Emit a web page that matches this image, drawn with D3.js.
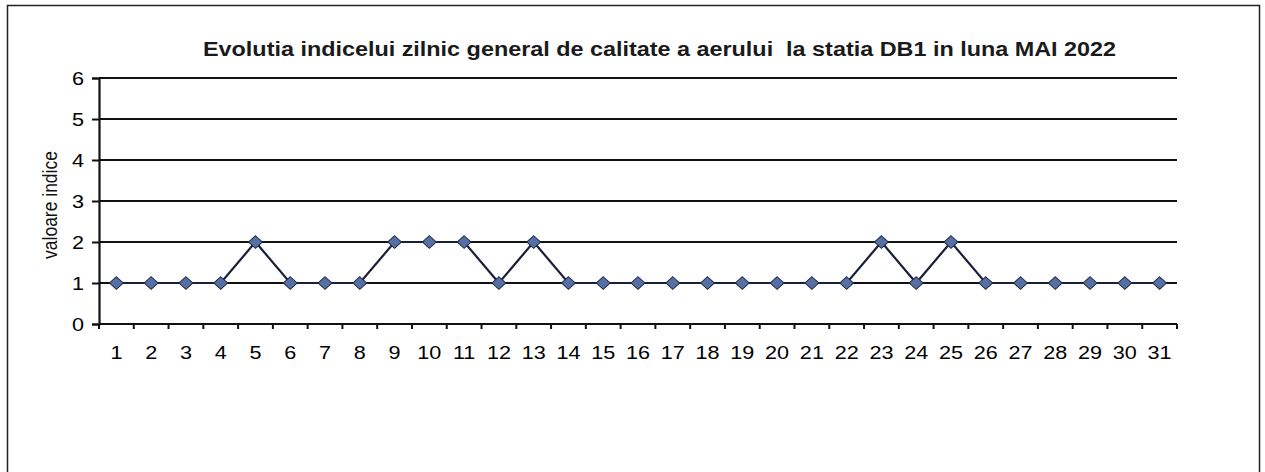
<!DOCTYPE html>
<html>
<head>
<meta charset="utf-8">
<script src="https://cdnjs.cloudflare.com/ajax/libs/d3/7.8.5/d3.min.js"></script>
<style>
  body { margin: 0; background: #fff; }
  svg { display: block; font-family: Arial, "Liberation Sans", sans-serif; }
</style>
</head>
<body>
<div id="chart"></div>
<script>
// data
var days = d3.range(1, 32).map(String);
var indexValues = [1, 1, 1, 1, 2, 1, 1, 1, 2, 2, 2, 1, 2, 1, 1, 1, 1, 1, 1, 1, 1, 1, 2, 1, 2, 1, 1, 1, 1, 1, 1];
var yTicks = [0, 1, 2, 3, 4, 5, 6];
var titleText = "Evolutia indicelui zilnic general de calitate a aerului  la statia DB1 in luna MAI 2022";
var yLabel = "valoare indice";

var width = 1265, height = 472;
var margin = { top: 78, right: 88, bottom: 148, left: 99 };
var innerW = width - margin.left - margin.right;
var innerH = 324 - margin.top;
var stretch = 1.2; // the scan is wider than tall

var svg = d3.select("#chart").append("svg")
    .attr("width", width)
    .attr("height", height);

// outer frame (bottom edge runs off the page)
svg.append("path")
    .attr("d", "M7.5,480 V5.5 H1259.5 V480")
    .attr("fill", "none")
    .attr("stroke", "#222")
    .attr("stroke-width", 1.5);

svg.append("text")
    .attr("x", 659.5)
    .attr("y", 56)
    .attr("text-anchor", "middle")
    .attr("font-size", 20)
    .attr("font-weight", "bold")
    .attr("fill", "#1a1a1a")
    .attr("xml:space", "preserve")
    .attr("textLength", 913)
    .attr("lengthAdjust", "spacingAndGlyphs")
    .text(titleText);

var g = svg.append("g")
    .attr("transform", "translate(" + margin.left + "," + margin.top + ")");

var x = d3.scaleBand().domain(days).range([0, innerW]);
var y = d3.scaleLinear().domain([0, 6]).range([innerH, 0]);

// gridlines
g.selectAll(".grid")
    .data(yTicks.filter(function(d) { return d > 0; }))
    .enter().append("line")
    .attr("class", "grid")
    .attr("x1", 0)
    .attr("x2", innerW)
    .attr("y1", function(d) { return y(d); })
    .attr("y2", function(d) { return y(d); })
    .attr("stroke", "#111")
    .attr("stroke-width", 2.2);

// y axis
var yAxis = g.append("g")
    .call(d3.axisLeft(y).tickValues(yTicks).tickSize(7).tickFormat(d3.format("d")));
yAxis.select(".domain").attr("stroke", "#111").attr("stroke-width", 2.2);
yAxis.selectAll(".tick line").attr("stroke", "#111").attr("stroke-width", 2);
yAxis.selectAll("text")
    .attr("x", 0)
    .attr("dy", "0.36em")
    .attr("transform", "translate(-15,0) scale(" + stretch + ",1)")
    .attr("font-size", 18)
    .attr("font-family", "Arial, 'Liberation Sans', sans-serif")
    .attr("fill", "#000");

// x axis: ticks sit between categories
var xAxis = g.append("g")
    .attr("transform", "translate(0," + innerH + ")");
xAxis.append("line")
    .attr("x1", 0).attr("x2", innerW)
    .attr("stroke", "#111").attr("stroke-width", 2.2);
xAxis.selectAll(".xtick")
    .data(days.concat(["end"]))
    .enter().append("line")
    .attr("class", "xtick")
    .attr("x1", function(d, i) { return i * x.step(); })
    .attr("x2", function(d, i) { return i * x.step(); })
    .attr("y1", 0).attr("y2", 5)
    .attr("stroke", "#111").attr("stroke-width", 2);
xAxis.selectAll(".xlab")
    .data(days)
    .enter().append("text")
    .attr("class", "xlab")
    .attr("transform", function(d) {
        return "translate(" + (x(d) + x.bandwidth() / 2) + ",35) scale(" + stretch + ",1)";
    })
    .attr("text-anchor", "middle")
    .attr("font-size", 18)
    .attr("fill", "#000")
    .text(function(d) { return d; });

// y label
svg.append("text")
    .attr("transform", "translate(57,205) rotate(-90) scale(1," + stretch + ")")
    .attr("text-anchor", "middle")
    .attr("font-size", 17.5)
    .attr("fill", "#111")
    .text(yLabel);

// series
var line = d3.line()
    .x(function(d, i) { return x(days[i]) + x.bandwidth() / 2; })
    .y(function(d) { return y(d); });

g.append("path")
    .datum(indexValues)
    .attr("d", line)
    .attr("fill", "none")
    .attr("stroke", "#1a1f3a")
    .attr("stroke-width", 2.2);

var diamond = d3.symbol().type(d3.symbolDiamond2).size(100);
g.selectAll(".pt")
    .data(indexValues)
    .enter().append("path")
    .attr("class", "pt")
    .attr("transform", function(d, i) {
        return "translate(" + (x(days[i]) + x.bandwidth() / 2) + "," + y(d) + ") scale(1.1,1)";
    })
    .attr("d", diamond)
    .attr("fill", "#5670a4")
    .attr("stroke", "#1f2a4a")
    .attr("stroke-width", 1);
</script>
</body>
</html>
